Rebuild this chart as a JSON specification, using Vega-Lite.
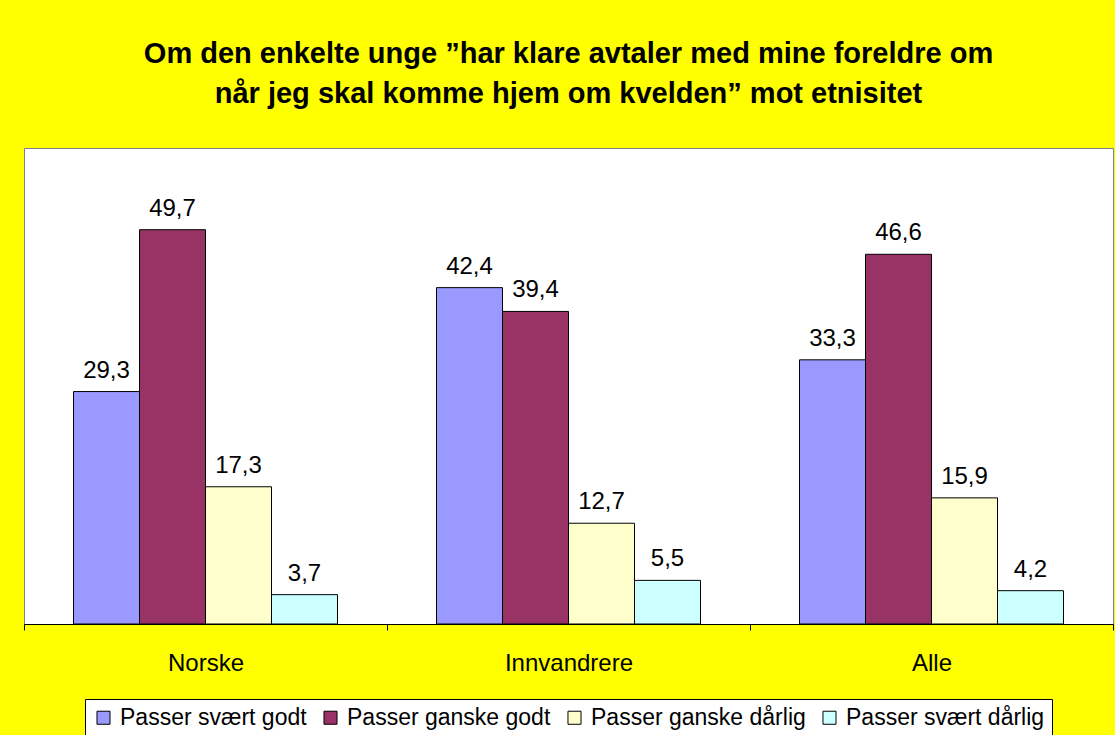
{
  "$schema": "https://vega.github.io/schema/vega-lite/v6.json",
  "autosize": {"type": "none"},
  "width": 1089,
  "height": 476,
  "padding": {"left": 24, "top": 148, "right": 2, "bottom": 111},
  "background": "#FFFF00",
  "title": {
    "text": ["Om den enkelte unge ”har klare avtaler med mine foreldre om", "når jeg skal komme hjem om kvelden” mot etnisitet"],
    "font": "Liberation Sans",
    "fontSize": 29,
    "fontWeight": "bold",
    "color": "#000000",
    "anchor": "middle",
    "lineHeight": 40,
    "offset": 39
  },
  "data": {
    "values": [
      {"gruppe": "Norske", "svar": "Passer svært godt", "prosent": 29.3},
      {"gruppe": "Norske", "svar": "Passer ganske godt", "prosent": 49.7},
      {"gruppe": "Norske", "svar": "Passer ganske dårlig", "prosent": 17.3},
      {"gruppe": "Norske", "svar": "Passer svært dårlig", "prosent": 3.7},
      {"gruppe": "Innvandrere", "svar": "Passer svært godt", "prosent": 42.4},
      {"gruppe": "Innvandrere", "svar": "Passer ganske godt", "prosent": 39.4},
      {"gruppe": "Innvandrere", "svar": "Passer ganske dårlig", "prosent": 12.7},
      {"gruppe": "Innvandrere", "svar": "Passer svært dårlig", "prosent": 5.5},
      {"gruppe": "Alle", "svar": "Passer svært godt", "prosent": 33.3},
      {"gruppe": "Alle", "svar": "Passer ganske godt", "prosent": 46.6},
      {"gruppe": "Alle", "svar": "Passer ganske dårlig", "prosent": 15.9},
      {"gruppe": "Alle", "svar": "Passer svært dårlig", "prosent": 4.2}
    ]
  },
  "encoding": {
    "x": {
      "field": "gruppe", "type": "nominal",
      "sort": ["Norske", "Innvandrere", "Alle"],
      "scale": {"paddingInner": 0, "paddingOuter": 0},
      "axis": {
        "title": null, "labelAngle": 0, "tickBand": "extent",
        "domainColor": "#000000", "tickColor": "#000000", "tickSize": 6,
        "labelFont": "Liberation Sans", "labelFontSize": 24, "labelColor": "#000000",
        "labelPadding": 21
      }
    },
    "xOffset": {
      "field": "svar", "type": "nominal",
      "sort": ["Passer svært godt", "Passer ganske godt", "Passer ganske dårlig", "Passer svært dårlig"],
      "scale": {"paddingInner": 0, "paddingOuter": 0.75}
    },
    "y": {
      "field": "prosent", "type": "quantitative",
      "scale": {"domain": [0, 60], "nice": false},
      "axis": null
    }
  },
  "layer": [
    {
      "mark": {"type": "bar", "stroke": "#000000", "strokeWidth": 1},
      "encoding": {
        "color": {
          "field": "svar", "type": "nominal",
          "sort": ["Passer svært godt", "Passer ganske godt", "Passer ganske dårlig", "Passer svært dårlig"],
          "scale": {
            "domain": ["Passer svært godt", "Passer ganske godt", "Passer ganske dårlig", "Passer svært dårlig"],
            "range": ["#9999FF", "#993366", "#FFFFCC", "#CCFFFF"]
          },
          "legend": {
            "title": null,
            "orient": "bottom",
            "direction": "horizontal",
            "offset": 24,
            "fillColor": "#FFFFFF",
            "strokeColor": "#000000",
            "padding": 7,
            "symbolType": "square",
            "symbolSize": 170,
            "symbolStrokeColor": "#000000",
            "symbolStrokeWidth": 1,
            "symbolOpacity": 1,
            "labelFont": "Liberation Sans",
            "labelFontSize": 23,
            "labelColor": "#000000",
            "labelLimit": 500,
            "labelOffset": 5,
            "columnPadding": 12
          }
        }
      }
    },
    {
      "mark": {"type": "text", "dy": -14, "baseline": "alphabetic", "font": "Liberation Sans", "fontSize": 24, "color": "#000000"},
      "encoding": {
        "text": {"field": "prosent", "type": "quantitative", "format": ".1f"}
      }
    }
  ],
  "config": {
    "locale": {"number": {"decimal": ",", "thousands": " ", "grouping": [3], "currency": ["", " kr"]}},
    "view": {"fill": "#FFFFFF", "stroke": "#808080", "strokeWidth": 1},
    "legend": {"layout": {"bottom": {"anchor": "middle"}}}
  }
}
